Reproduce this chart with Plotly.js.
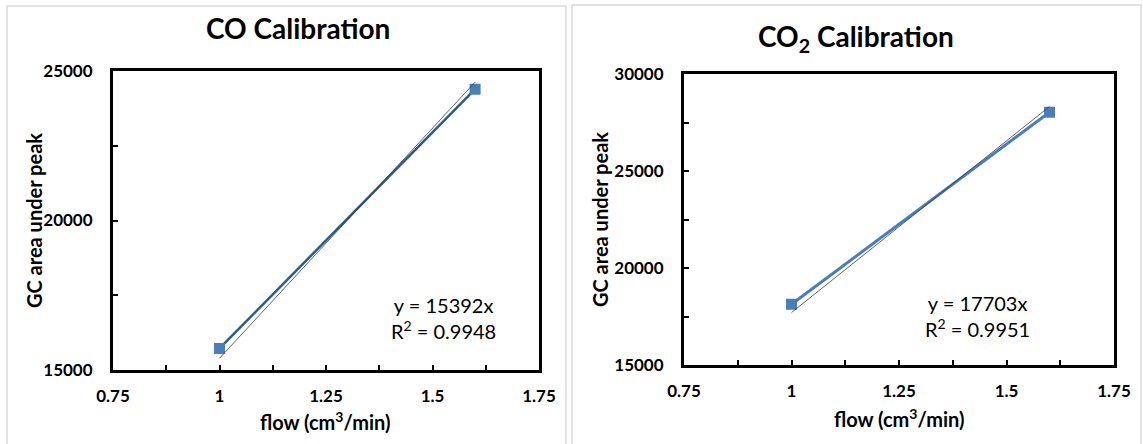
<!DOCTYPE html>
<html>
<head>
<meta charset="utf-8">
<script src="https://cdn.plot.ly/plotly-3.0.1.min.js"></script>
<style>html,body{margin:0;padding:0;background:#fff;}#chart{width:1143px;height:444px;}</style>
</head>
<body>
<div id="chart"></div>
<script>
// ---- data ----
const flow = [1.0, 1.6];
const coArea = [15720, 24390];
const co2Area = [18130, 28030];
const trendFlow = [1.0, 1.6];
const coTrend = [15392, 24627];     // y = 15392x
const co2Trend = [17703, 28325];    // y = 17703x
const xTickVals = [0.75, 1, 1.25, 1.5, 1.75];
const xTickText = ["0.75", "1", "1.25", "1.5", "1.75"];
const coYTicks = [15000, 20000, 25000];
const co2YTicks = [15000, 20000, 25000, 30000];
const titles = ["CO Calibration", "CO<sub>2</sub> Calibration"];
const eqs = ["y = 15392x<br>R<sup>2</sup> = 0.9948", "y = 17703x<br>R<sup>2</sup> = 0.9951"];
const xTitle = "flow (cm<sup>3</sup>/min)";
const yTitle = "GC area under peak";

const W = 1143, H = 444;
const px = v => v / W;
const py = v => 1 - v / H;
const FONT = "Lato";

const markerBlue = "#4A7EBB";

const traces = [
  {x: flow, y: coArea, xaxis: "x", yaxis: "y", mode: "lines+markers", type: "scatter",
   line: {color: "#2A5B8C", width: 2.5}, marker: {symbol: "square", size: 11, color: markerBlue}},
  {x: trendFlow, y: coTrend, xaxis: "x", yaxis: "y", mode: "lines", type: "scatter",
   line: {color: "#3a3a3a", width: 0.8}},
  {x: flow, y: co2Area, xaxis: "x2", yaxis: "y2", mode: "lines+markers", type: "scatter",
   line: {color: markerBlue, width: 3}, marker: {symbol: "square", size: 11, color: markerBlue}},
  {x: trendFlow, y: co2Trend, xaxis: "x2", yaxis: "y2", mode: "lines", type: "scatter",
   line: {color: "#3a3a3a", width: 0.8}}
];

function xAxis(domain, anchor) {
  return {
    domain: domain, anchor: anchor, range: [0.75, 1.75],
    tickvals: xTickVals, ticktext: xTickText,
    ticks: "inside", ticklen: 5, tickwidth: 2, tickcolor: "#000",
    minor: {dtick: 0.125, tick0: 0.75, ticks: "inside", ticklen: 5, tickwidth: 2, tickcolor: "#000"},
    showline: true, linecolor: "#000", linewidth: 3, mirror: true,
    showgrid: false, zeroline: false,
    tickfont: {family: FONT, size: 17, color: "#000", weight: "bold"},
    ticklabelstandoff: 9
  };
}
function yAxis(domain, anchor, range, tv) {
  return {
    domain: domain, anchor: anchor, range: range,
    tickvals: tv, ticktext: tv.map(String),
    ticks: "inside", ticklen: 5, tickwidth: 2, tickcolor: "#000",
    minor: {dtick: 2500, tick0: 15000, ticks: "inside", ticklen: 5, tickwidth: 2, tickcolor: "#000"},
    showline: true, linecolor: "#000", linewidth: 3, mirror: true,
    showgrid: false, zeroline: false,
    tickfont: {family: FONT, size: 17, color: "#000", weight: "bold"},
    ticklabelstandoff: 14
  };
}

const layout = {
  width: W, height: H,
  margin: {l: 0, r: 0, t: 0, b: 0},
  paper_bgcolor: "#fff", plot_bgcolor: "#fff",
  showlegend: false,
  font: {family: FONT, color: "#000"},
  xaxis: xAxis([px(113), px(539)], "y"),
  yaxis: yAxis([py(370), py(71)], "x", [15000, 25000], coYTicks),
  xaxis2: xAxis([px(684), px(1114)], "y2"),
  yaxis2: yAxis([py(365), py(74)], "x2", [15000, 30000], co2YTicks),
  shapes: [
    {type: "rect", xref: "paper", yref: "paper", x0: px(7), x1: px(566), y0: py(460), y1: py(6),
     line: {color: "#D9D9D9", width: 1.5}, fillcolor: "rgba(0,0,0,0)", layer: "below"},
    {type: "rect", xref: "paper", yref: "paper", x0: px(572), x1: px(1141), y0: py(460), y1: py(5),
     line: {color: "#D9D9D9", width: 1.5}, fillcolor: "rgba(0,0,0,0)", layer: "below"}
  ],
  annotations: [
    {text: titles[0], xref: "paper", yref: "paper", x: px(298), y: py(28), xanchor: "center", yanchor: "middle",
     showarrow: false, font: {family: FONT, size: 28, weight: "bold", color: "#000"}},
    {text: titles[1], xref: "paper", yref: "paper", x: px(856), y: py(38), xanchor: "center", yanchor: "middle",
     showarrow: false, font: {family: FONT, size: 28, weight: "bold", color: "#000"}},
    {text: eqs[0], xref: "paper", yref: "paper", x: px(443), y: py(318), xanchor: "center", yanchor: "middle",
     showarrow: false, align: "center", font: {family: FONT, size: 20, color: "#000"}},
    {text: eqs[1], xref: "paper", yref: "paper", x: px(977), y: py(316), xanchor: "center", yanchor: "middle",
     showarrow: false, align: "center", font: {family: FONT, size: 20, color: "#000"}},
    {text: xTitle, xref: "paper", yref: "paper", x: px(325), y: py(421), xanchor: "center", yanchor: "middle",
     showarrow: false, font: {family: FONT, size: 20, weight: "bold", color: "#000"}},
    {text: xTitle, xref: "paper", yref: "paper", x: px(899), y: py(418), xanchor: "center", yanchor: "middle",
     showarrow: false, font: {family: FONT, size: 20, weight: "bold", color: "#000"}},
    {text: yTitle, xref: "paper", yref: "paper", x: px(34), y: py(221), xanchor: "center", yanchor: "middle",
     textangle: -90, showarrow: false, font: {family: FONT, size: 20, weight: "bold", color: "#000"}},
    {text: yTitle, xref: "paper", yref: "paper", x: px(600), y: py(220), xanchor: "center", yanchor: "middle",
     textangle: -90, showarrow: false, font: {family: FONT, size: 20, weight: "bold", color: "#000"}}
  ]
};

Plotly.newPlot("chart", traces, layout, {displayModeBar: false, staticPlot: true});
</script>
</body>
</html>
